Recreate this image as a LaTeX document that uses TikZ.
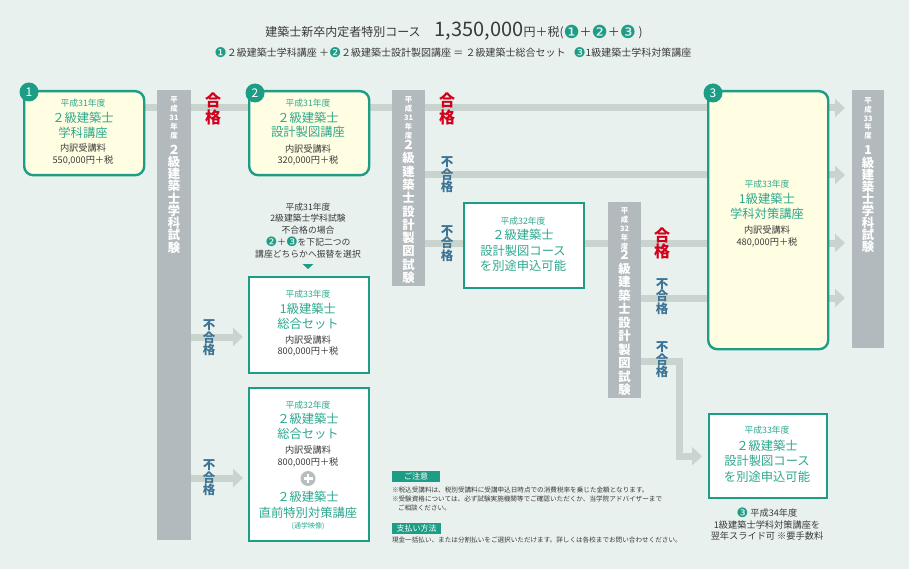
\documentclass[tikz,border=0pt]{standalone}
\usepackage{fontspec}
\setmainfont{Noto Sans CJK JP}
\newfontfamily\dejavu{DejaVu Sans}
\usetikzlibrary{arrows.meta}
\pgfdeclarelayer{bgl}
\pgfsetlayers{bgl,main}
\definecolor{bgc}{HTML}{E9F1EF}
\definecolor{tealc}{HTML}{1E9D86}
\definecolor{tealt}{HTML}{2EA88F}
\definecolor{yel}{HTML}{FFFDE2}
\definecolor{barg}{HTML}{B3BABD}
\definecolor{lineg}{HTML}{CAD4CE}
\definecolor{redc}{HTML}{D2001A}
\definecolor{ngb}{HTML}{3D7394}
\definecolor{dark}{HTML}{3A3A3A}
\definecolor{plusg}{HTML}{B8BEC0}
\newcommand\fsz[1]{\fontsize{#1}{#1}\selectfont}
\newcommand\cnz[3]{\raisebox{#2pt}{\fontsize{#1}{#1}\selectfont\dejavu\color{tealc}#3}}
\begin{document}
\begin{tikzpicture}[x=1pt,y=-1pt,
  t/.style={inner sep=0pt, outer sep=0pt},
  tsm/.style={t, text=tealt, font=\fsz{8.8}},
  ttl/.style={t, text=tealt, font=\fsz{12.3}},
  tpr/.style={t, text=dark, font=\fsz{9.2}},
  tdk/.style={t, text=dark, font=\fsz{8.8}},
  bar/.style={fill=barg, draw=none, inner sep=0pt, anchor=north west},
  ybox/.style={draw=tealc, line width=2.4pt, fill=yel, rounded corners=9pt, inner sep=0pt, anchor=north west},
  wbox/.style={draw=tealc, line width=2.4pt, fill=white, inner sep=0pt, anchor=north west},
  cnum/.style={circle, fill=tealc, text=white, minimum size=19pt, inner sep=0pt, font=\fsz{12}},
  conn/.style={draw=lineg, line width=7pt},
  arr/.style={conn, -{Triangle[length=10pt,width=18pt]}},
  vsm/.style={t, align=center, text=white, font=\fontsize{7.4}{8.8}\selectfont\bfseries},
  vbig/.style={t, align=center, text=white, font=\fontsize{12.3}{#1}\selectfont\bfseries},
  pass/.style={t, align=center, text=redc, font=\fontsize{16}{16.5}\selectfont\bfseries},
  fail/.style={t, align=center, text=ngb, font=\fontsize{12.5}{12.5}\selectfont\bfseries},
  lab/.style={fill=tealc, text=white, inner sep=0pt, minimum height=11pt, font=\fsz{8}},
  note/.style={t, anchor=west, text=dark, font=\fsz{6.6}}
]
\useasboundingbox (0,0) rectangle (909,569);

% ---------- header ----------
\node[t, text=dark] (title) at (454,31)
  {{\fsz{12}建築士新卒内定者特別コース}\hspace{14pt}{\fsz{20}1,350,000}{\fsz{12}円＋税(\cnz{18}{-1.8}{❶}＋\cnz{18}{-1.8}{❷}＋\cnz{18}{-1.8}{❸} )}};
\node[t, text=dark, font=\fsz{10}] (sub) at (453,53)
  {\cnz{13.5}{-1.2}{❶}２級建築士学科講座 ＋\cnz{13.5}{-1.2}{❷}２級建築士設計製図講座 ＝ ２級建築士総合セット\hspace{8pt}\cnz{13.5}{-1.2}{❸}1級建築士学科対策講座};

% ---------- bars ----------
\node[bar, minimum width=34pt, minimum height=450pt] (b1) at (157,90) {};
\node[bar, minimum width=33pt, minimum height=196pt] (b2) at (392,90) {};
\node[bar, minimum width=33pt, minimum height=196pt] (b3) at (608,202) {};
\node[bar, minimum width=32pt, minimum height=258pt] (b4) at (852,90) {};

\node[vsm] (b1s) at (174,118) {平\\成\\31\\年\\度};
\node[vbig=12.25] (b1t) at (174,199) {２\\級\\建\\築\\士\\学\\科\\試\\験};
\node[vsm] (b2s) at (408.5,118) {平\\成\\31\\年\\度};
\node[vbig=13.3] (b2t) at (408.5,212) {２\\級\\建\\築\\士\\設\\計\\製\\図\\試\\験};
\node[vsm] (b3s) at (624.5,229) {平\\成\\32\\年\\度};
\node[vbig=13.5] (b3t) at (624.5,323) {２\\級\\建\\築\\士\\設\\計\\製\\図\\試\\験};
\node[vsm] (b4s) at (868,118.5) {平\\成\\33\\年\\度};
\node[vbig=12.1] (b4t) at (868,199.5) {1\\級\\建\\築\\士\\学\\科\\試\\験};

% ---------- boxes ----------
\node[ybox, minimum width=120pt, minimum height=84pt] (k1) at (23,90) {};
\node[ybox, minimum width=120pt, minimum height=84pt] (k2) at (248,90) {};
\node[ybox, minimum width=120pt, minimum height=258pt] (k3) at (707,90) {};
\node[wbox, minimum width=120pt, minimum height=96pt] (k4) at (248,276) {};
\node[wbox, minimum width=120pt, minimum height=153pt] (k5) at (248,387) {};
\node[wbox, minimum width=120pt, minimum height=85pt] (k6) at (463,202) {};
\node[wbox, minimum width=118pt, minimum height=84pt] (k7) at (708,413) {};

\node[cnum] (n1) at (29,92) {1};
\node[cnum] (n2) at (255,93) {2};
\node[cnum] (n3) at (713,93) {3};

% box 1
\node[tsm] (k1a) at (83,103) {平成31年度};
\node[ttl] (k1b) at (83,118) {２級建築士};
\node[ttl] (k1c) at (83,133) {学科講座};
\node[tpr] (k1d) at (83,148) {内訳受講料};
\node[tpr] (k1e) at (83,161) {550,000円＋税};
% box 2
\node[tsm] (k2a) at (308,103) {平成31年度};
\node[ttl] (k2b) at (308,118) {２級建築士};
\node[ttl] (k2c) at (308,132) {設計製図講座};
\node[tpr] (k2d) at (308,149) {内訳受講料};
\node[tpr] (k2e) at (308,161) {320,000円＋税};
% explanation above box 4
\node[tdk] (x1) at (308,207) {平成31年度};
\node[tdk] (x2) at (308,218.5) {2級建築士学科試験};
\node[tdk] (x3) at (308,230) {不合格の場合};
\node[tdk] (x4) at (308,242) {\cnz{13}{-1.2}{❷}＋\cnz{13}{-1.2}{❸}を下記二つの};
\node[tdk] (x5) at (308,254) {講座どちらかへ振替を選択};
\fill[tealc] (302.5,264) -- (313.5,264) -- (308,269) -- cycle;
% box 4
\node[tsm] (k4a) at (308,294) {平成33年度};
\node[ttl] (k4b) at (308,309) {1級建築士};
\node[ttl] (k4c) at (308,323.5) {総合セット};
\node[tpr] (k4d) at (308,340) {内訳受講料};
\node[tpr] (k4e) at (308,352) {800,000円＋税};
% box 5
\node[tsm] (k5a) at (308,405) {平成32年度};
\node[ttl] (k5b) at (308,419) {２級建築士};
\node[ttl] (k5c) at (308,434) {総合セット};
\node[tpr] (k5d) at (308,450) {内訳受講料};
\node[tpr] (k5e) at (308,463) {800,000円＋税};
\fill[plusg] (308,478.5) circle (7.5pt);
\draw[white, line width=2.6pt] (303.5,478.5) -- (312.5,478.5) (308,474) -- (308,483);
\node[ttl] (k5f) at (308,497) {２級建築士};
\node[ttl] (k5g) at (308,513) {直前特別対策講座};
\node[t, text=tealt, font=\fsz{7}] (k5h) at (308,526) {(通学映像)};
% box 6
\node[tsm] (k6a) at (523,221) {平成32年度};
\node[ttl] (k6b) at (523,235) {２級建築士};
\node[ttl] (k6c) at (523,251) {設計製図コース};
\node[ttl] (k6d) at (523,266) {を別途申込可能};
% box 3
\node[tsm] (k3a) at (767,184) {平成33年度};
\node[ttl] (k3b) at (767,198.5) {1級建築士};
\node[ttl] (k3c) at (767,214) {学科対策講座};
\node[tpr] (k3d) at (767,230) {内訳受講料};
\node[tpr] (k3e) at (767,243) {480,000円＋税};
% box 7
\node[tsm] (k7a) at (767,430) {平成33年度};
\node[ttl] (k7b) at (767,446) {２級建築士};
\node[ttl] (k7c) at (767,461) {設計製図コース};
\node[ttl] (k7d) at (767,477) {を別途申込可能};
% under box 7
\node[t, text=dark, font=\fsz{9.2}] (u1) at (767,513) {\cnz{13}{-1.2}{❸} 平成34年度};
\node[t, text=dark, font=\fsz{9.2}] (u2) at (767,524.5) {1級建築士学科対策講座を};
\node[t, text=dark, font=\fsz{9.2}] (u3) at (767,536) {翌年スライド可 ※要手数料};

% ---------- notes ----------
\node[lab, minimum width=48pt] (nz) at (416,476.5) {ご注意};
\node[note] (nz1) at (392,490) {※税込受講料は、税別受講料に受講申込日時点での消費税率を乗じた金額となります。};
\node[note] (nz2) at (392,499) {※受験資格については、必ず試験実施機関等でご確認いただくか、当学院アドバイザーまで};
\node[note] (nz3) at (398,508) {ご相談ください。};
\node[lab, minimum width=49pt] (pay) at (416.5,528) {支払い方法};
\node[note] (pay1) at (392,540) {現金一括払い、または分割払いをご選択いただけます。詳しくは各校までお問い合わせください。};

% ---------- connectors (behind) ----------
\coordinate (r1) at (0,108);
\coordinate (r2) at (0,175);
\coordinate (r3) at (0,243);
\coordinate (r4) at (0,298);
\coordinate (r5) at (0,361);
\coordinate (r6) at (0,337);
\coordinate (r7) at (0,478);
\coordinate (bend) at (679,361);
\begin{pgfonlayer}{bgl}
\fill[bgc] (0,0) rectangle (909,569);
\draw[conn] (k1.east|-r1) -- (b1.west|-r1);
\draw[conn] (b1.east|-r1) -- (k2.west|-r1);
\draw[conn] (k2.east|-r1) -- (b2.west|-r1);
\draw[conn] (b2.east|-r1) -- (k3.west|-r1);
\draw[conn] (b2.east|-r2) -- (k3.west|-r2);
\draw[conn] (b2.east|-r3) -- (k6.west|-r3);
\draw[conn] (k6.east|-r3) -- (b3.west|-r3);
\draw[conn] (b3.east|-r3) -- (k3.west|-r3);
\draw[conn] (b3.east|-r4) -- (k3.west|-r4);
\draw[arr, shorten >=6pt] (b3.east|-r5) -- (bend) |- (k7.west);
\draw[arr, shorten >=5pt] (b1.east|-r6) -- (k4.west|-r6);
\draw[arr, shorten >=5pt] (b1.east|-r7) -- (k5.west|-r7);
\draw[arr, shorten >=7pt] (k3.east|-r1) -- (b4.west|-r1);
\draw[arr, shorten >=7pt] (k3.east|-r2) -- (b4.west|-r2);
\draw[arr, shorten >=7pt] (k3.east|-r3) -- (b4.west|-r3);
\draw[arr, shorten >=7pt] (k3.east|-r4) -- (b4.west|-r4);
\end{pgfonlayer}

% ---------- result labels ----------
\node[pass] (p1) at (213,109) {合\\格};
\node[pass] (p2) at (447,109) {合\\格};
\node[pass] (p3) at (662,243.5) {合\\格};
\node[fail] (f1) at (209,338) {不\\合\\格};
\node[fail] (f2) at (209,478) {不\\合\\格};
\node[fail] (f3) at (447,175) {不\\合\\格};
\node[fail] (f4) at (447,243.5) {不\\合\\格};
\node[fail] (f5) at (662,296.5) {不\\合\\格};
\node[fail] (f6) at (662,360) {不\\合\\格};
\end{tikzpicture}
\end{document}
